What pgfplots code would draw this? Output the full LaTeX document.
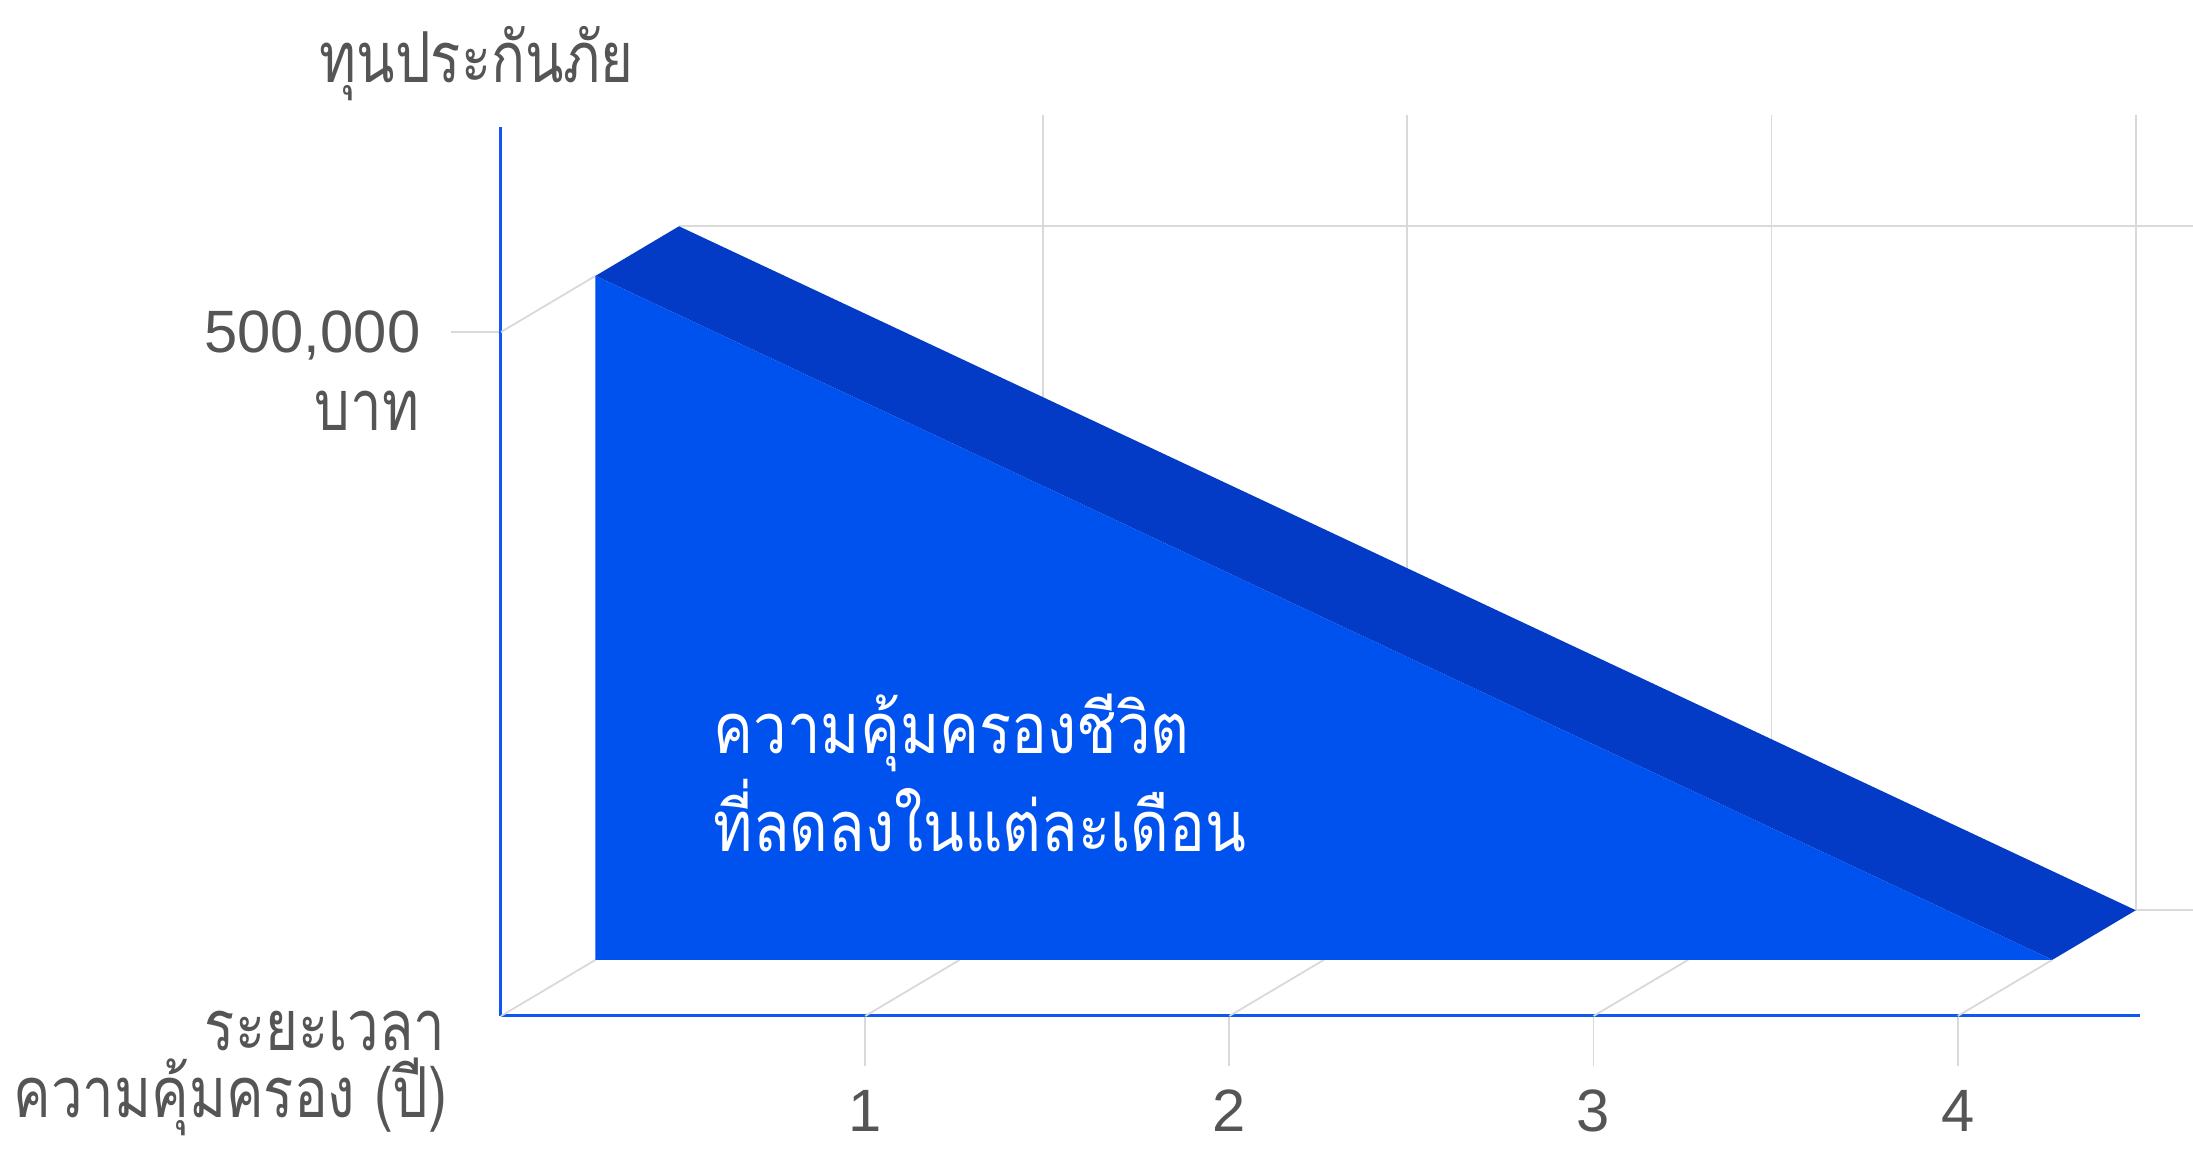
\documentclass[border=0pt]{standalone}
\usepackage{fontspec}
\setmainfont[Script=Thai]{Loma}
\newfontfamily\thaiL[Script=Thai,FakeStretch=0.8]{Loma}
\newfontfamily\thaiI[Script=Thai,FakeStretch=0.85]{Loma}
\newfontfamily\digfont{Liberation Sans}
\usepackage{pgfplots}
\usepackage{pgfplotstable}
\pgfplotsset{compat=1.18}
\definecolor{frontblue}{RGB}{0,82,238}
\definecolor{topblue}{RGB}{3,58,198}
\definecolor{axisblue}{RGB}{16,86,245}
\definecolor{gridgrey}{RGB}{217,217,217}
\definecolor{textgrey}{RGB}{85,85,85}
% depth projection: one unit of depth (1 px) moves x by \kx years and y by \ky baht
\def\kx{0.0027457}
\def\ky{434.2}
\def\dfront{94.5}
\def\dback{178}
% decreasing cover: 500,000 baht at year 0 down to 0 at year 4
\pgfplotstableread{
x y d
0 0 94.5
0 500000 94.5
4 0 94.5
}\frontface
\pgfplotstableread{
x y d
0 500000 94.5
4 0 94.5
4 0 178
0 500000 178
}\topface
\pgfplotsset{/pgfplots/table/depth/.style={x expr=\thisrow{x}+\thisrow{d}*\kx, y expr=\thisrow{y}+\thisrow{d}*\ky}}
\newcommand\lbl{\thaiL\fontsize{20}{24}\selectfont}
\newcommand\inn{\thaiI\fontsize{20}{24}\selectfont}
\newcommand\dig{\digfont\fontsize{17}{20}\selectfont}
\begin{document}
\begin{tikzpicture}
\useasboundingbox (0,0) rectangle (219.3mm,114.9mm);
\begin{axis}[
  at={(50.1mm,13.3mm)}, anchor=south west,
  scale only axis, width=163.89mm, height=88.92mm,
  xmin=0, xmax=4.5, ymin=0, ymax=650000,
  clip=false,
  axis x line=bottom, axis y line=left,
  axis line style={draw=axisblue, line width=0.3mm, -},
  xtick={1,2,3,4}, xticklabels={1,2,3,4},
  ytick={500000}, yticklabels={500{,}000},
  scaled y ticks=false,
  tick align=outside, major tick length=5mm,
  tick style={draw=gridgrey, line width=0.18mm},
  every tick label/.append style={font=\dig, text=textgrey, inner sep=0pt},
  xticklabel style={anchor=base, yshift=-6.6mm},
  yticklabel style={anchor=base east, xshift=-3mm, yshift=-2mm},
  gridline/.style={draw=gridgrey, line width=0.18mm},
  back/.style={x filter/.expression={x+\dback*\kx}, y filter/.expression={y+\dback*\ky}},
]
% back wall grid
\pgfplotsinvokeforeach{1,2,3,4}{
  \addplot[gridline, back] coordinates {(#1,0) (#1,581000)};
}
\addplot[gridline, back] coordinates {(0,500000) (5,500000)};
\addplot[gridline, back] coordinates {(0,0) (5,0)};
% floor and wall depth lines
\pgfplotsinvokeforeach{0,1,2,3,4}{
  \addplot[gridline] table[row sep=\\, depth] {x y d\\ #1 0 0\\ #1 0 94.5\\};
}
\addplot[gridline] table[row sep=\\, depth] {x y d\\ 0 500000 0\\ 0 500000 94.5\\};
% the area
\addplot[fill=topblue, draw=none] table[depth] {\topface};
\addplot[fill=frontblue, draw=none] table[depth] {\frontface};
% texts
\node[anchor=base west, inner sep=0pt, font=\lbl, text=textgrey] at (axis cs:-0.4997,682749) {ทุนประกันภัย};
\node[anchor=base east, inner sep=0pt, font=\lbl, text=textgrey] at (axis cs:-0.2224,428363) {บาท};
\node[anchor=base east, inner sep=0pt, font=\lbl, text=textgrey] at (axis cs:-0.1510,-25000) {ระยะเวลา};
\node[anchor=base east, inner sep=0pt, font=\lbl, text=textgrey] at (axis cs:-0.1455,-74500) {ความคุ้มครอง (ปี)};
\node[anchor=base west, inner sep=0pt, font=\inn, text=white] at (axis cs:0.5821,191520) {ความคุ้มครองชีวิต};
\node[anchor=base west, inner sep=0pt, font=\inn, text=white] at (axis cs:0.5821,119883) {ที่ลดลงในแต่ละเดือน};
\end{axis}
\end{tikzpicture}
\end{document}
